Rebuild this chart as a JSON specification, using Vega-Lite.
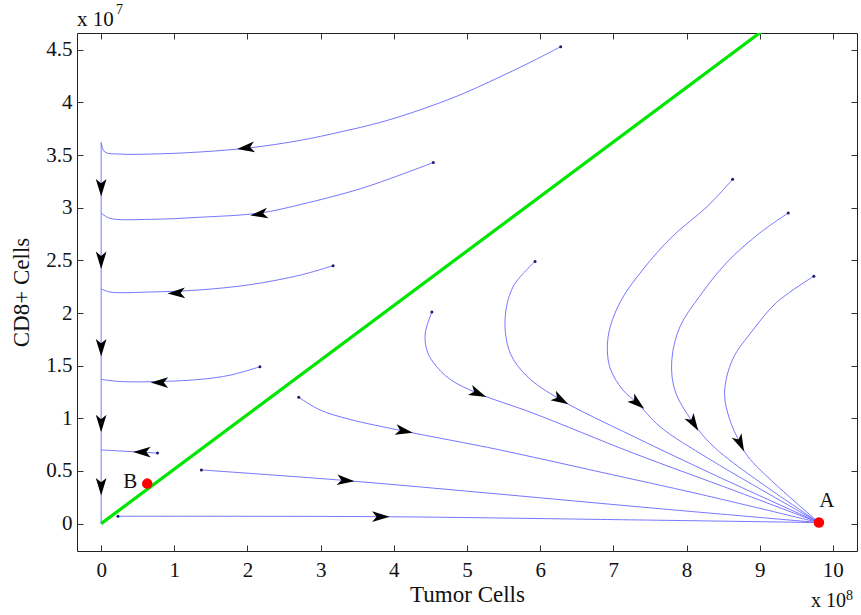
{
  "$schema": "https://vega.github.io/schema/vega-lite/v6.json",
  "width": 780,
  "height": 518,
  "autosize": {"type": "none"},
  "padding": {"left": 77, "top": 33, "right": 4, "bottom": 64},
  "background": "white",
  "config": {
    "view": {"stroke": "#222", "strokeWidth": 1},
    "font": "Liberation Serif",
    "axis": {
      "grid": false,
      "domain": false,
      "tickColor": "#333",
      "tickSize": -6,
      "labelFont": "Liberation Serif",
      "labelFontSize": 21,
      "labelColor": "#111",
      "titleFont": "Liberation Serif",
      "titleFontSize": 23,
      "titleFontWeight": "normal",
      "titleColor": "#111"
    }
  },
  "datasets": {
    "traj": [
      {"t": 1, "o": 1, "x": 6.28, "y": 4.53}, {"t": 1, "o": 2, "x": 5.86, "y": 4.38}, {"t": 1, "o": 3, "x": 5.38, "y": 4.22}, {"t": 1, "o": 4, "x": 4.90, "y": 4.07}, {"t": 1, "o": 5, "x": 4.36, "y": 3.93}, {"t": 1, "o": 6, "x": 3.81, "y": 3.81}, {"t": 1, "o": 7, "x": 3.27, "y": 3.72}, {"t": 1, "o": 8, "x": 2.72, "y": 3.64}, {"t": 1, "o": 9, "x": 2.04, "y": 3.57}, {"t": 1, "o": 10, "x": 1.35, "y": 3.53}, {"t": 1, "o": 11, "x": 0.67, "y": 3.51}, {"t": 1, "o": 12, "x": 0.26, "y": 3.51}, {"t": 1, "o": 13, "x": 0.05, "y": 3.53}, {"t": 1, "o": 14, "x": 0.0, "y": 3.62},
      {"t": 2, "o": 1, "x": 4.54, "y": 3.43}, {"t": 2, "o": 2, "x": 4.08, "y": 3.31}, {"t": 2, "o": 3, "x": 3.54, "y": 3.18}, {"t": 2, "o": 4, "x": 2.72, "y": 3.03}, {"t": 2, "o": 5, "x": 2.17, "y": 2.95}, {"t": 2, "o": 6, "x": 1.35, "y": 2.91}, {"t": 2, "o": 7, "x": 0.67, "y": 2.89}, {"t": 2, "o": 8, "x": 0.12, "y": 2.90}, {"t": 2, "o": 9, "x": 0.0, "y": 2.95},
      {"t": 3, "o": 1, "x": 3.17, "y": 2.45}, {"t": 3, "o": 2, "x": 2.72, "y": 2.36}, {"t": 3, "o": 3, "x": 2.04, "y": 2.27}, {"t": 3, "o": 4, "x": 1.35, "y": 2.22}, {"t": 3, "o": 5, "x": 0.67, "y": 2.20}, {"t": 3, "o": 6, "x": 0.12, "y": 2.20}, {"t": 3, "o": 7, "x": 0.0, "y": 2.23},
      {"t": 4, "o": 1, "x": 2.17, "y": 1.49}, {"t": 4, "o": 2, "x": 1.76, "y": 1.41}, {"t": 4, "o": 3, "x": 1.35, "y": 1.37}, {"t": 4, "o": 4, "x": 0.81, "y": 1.35}, {"t": 4, "o": 5, "x": 0.26, "y": 1.35}, {"t": 4, "o": 6, "x": 0.0, "y": 1.37},
      {"t": 5, "o": 1, "x": 0.77, "y": 0.67}, {"t": 5, "o": 2, "x": 0.53, "y": 0.68}, {"t": 5, "o": 3, "x": 0.26, "y": 0.69}, {"t": 5, "o": 4, "x": 0.0, "y": 0.70},
      {"t": 0, "o": 1, "x": 0.0, "y": 3.62}, {"t": 0, "o": 2, "x": 0.0, "y": 0.0},
      {"t": 6, "o": 1, "x": 0.23, "y": 0.07}, {"t": 6, "o": 2, "x": 3.81, "y": 0.066}, {"t": 6, "o": 3, "x": 6.82, "y": 0.04}, {"t": 6, "o": 4, "x": 9.81, "y": 0.01},
      {"t": 7, "o": 1, "x": 1.37, "y": 0.51}, {"t": 7, "o": 2, "x": 3.33, "y": 0.41}, {"t": 7, "o": 3, "x": 5.45, "y": 0.28}, {"t": 7, "o": 4, "x": 7.50, "y": 0.15}, {"t": 7, "o": 5, "x": 9.81, "y": 0.01},
      {"t": 8, "o": 1, "x": 2.70, "y": 1.20}, {"t": 8, "o": 2, "x": 2.99, "y": 1.08}, {"t": 8, "o": 3, "x": 3.40, "y": 0.99}, {"t": 8, "o": 4, "x": 4.13, "y": 0.88}, {"t": 8, "o": 5, "x": 5.45, "y": 0.70}, {"t": 8, "o": 6, "x": 6.82, "y": 0.49}, {"t": 8, "o": 7, "x": 8.18, "y": 0.28}, {"t": 8, "o": 8, "x": 9.81, "y": 0.01},
      {"t": 9, "o": 1, "x": 4.52, "y": 2.01}, {"t": 9, "o": 2, "x": 4.43, "y": 1.81}, {"t": 9, "o": 3, "x": 4.45, "y": 1.65}, {"t": 9, "o": 4, "x": 4.54, "y": 1.53}, {"t": 9, "o": 5, "x": 4.77, "y": 1.37}, {"t": 9, "o": 6, "x": 5.14, "y": 1.24}, {"t": 9, "o": 7, "x": 5.90, "y": 1.05}, {"t": 9, "o": 8, "x": 7.27, "y": 0.67}, {"t": 9, "o": 9, "x": 8.63, "y": 0.32}, {"t": 9, "o": 10, "x": 9.81, "y": 0.01},
      {"t": 10, "o": 1, "x": 5.93, "y": 2.49}, {"t": 10, "o": 2, "x": 5.63, "y": 2.25}, {"t": 10, "o": 3, "x": 5.52, "y": 1.94}, {"t": 10, "o": 4, "x": 5.59, "y": 1.62}, {"t": 10, "o": 5, "x": 5.82, "y": 1.40}, {"t": 10, "o": 6, "x": 6.27, "y": 1.18}, {"t": 10, "o": 7, "x": 7.27, "y": 0.83}, {"t": 10, "o": 8, "x": 8.42, "y": 0.45}, {"t": 10, "o": 9, "x": 9.81, "y": 0.01},
      {"t": 11, "o": 1, "x": 8.63, "y": 3.27}, {"t": 11, "o": 2, "x": 8.28, "y": 3.01}, {"t": 11, "o": 3, "x": 7.81, "y": 2.73}, {"t": 11, "o": 4, "x": 7.40, "y": 2.41}, {"t": 11, "o": 5, "x": 7.09, "y": 2.10}, {"t": 11, "o": 6, "x": 6.93, "y": 1.78}, {"t": 11, "o": 7, "x": 6.95, "y": 1.49}, {"t": 11, "o": 8, "x": 7.13, "y": 1.27}, {"t": 11, "o": 9, "x": 7.32, "y": 1.15}, {"t": 11, "o": 10, "x": 7.64, "y": 0.92}, {"t": 11, "o": 11, "x": 8.32, "y": 0.61}, {"t": 11, "o": 12, "x": 9.81, "y": 0.01},
      {"t": 12, "o": 1, "x": 9.39, "y": 2.95}, {"t": 12, "o": 2, "x": 9.00, "y": 2.76}, {"t": 12, "o": 3, "x": 8.55, "y": 2.48}, {"t": 12, "o": 4, "x": 8.18, "y": 2.16}, {"t": 12, "o": 5, "x": 7.91, "y": 1.87}, {"t": 12, "o": 6, "x": 7.80, "y": 1.56}, {"t": 12, "o": 7, "x": 7.84, "y": 1.27}, {"t": 12, "o": 8, "x": 8.09, "y": 0.96}, {"t": 12, "o": 9, "x": 8.42, "y": 0.70}, {"t": 12, "o": 10, "x": 9.81, "y": 0.01},
      {"t": 13, "o": 1, "x": 9.74, "y": 2.35}, {"t": 13, "o": 2, "x": 9.23, "y": 2.10}, {"t": 13, "o": 3, "x": 8.91, "y": 1.84}, {"t": 13, "o": 4, "x": 8.63, "y": 1.56}, {"t": 13, "o": 5, "x": 8.52, "y": 1.24}, {"t": 13, "o": 6, "x": 8.59, "y": 0.99}, {"t": 13, "o": 7, "x": 8.73, "y": 0.77}, {"t": 13, "o": 8, "x": 8.87, "y": 0.61}, {"t": 13, "o": 9, "x": 9.81, "y": 0.01}
    ],
    "starts": [
      {"x": 6.28, "y": 4.53}, {"x": 4.54, "y": 3.43}, {"x": 3.17, "y": 2.45}, {"x": 2.17, "y": 1.49}, {"x": 0.77, "y": 0.67},
      {"x": 0.23, "y": 0.07}, {"x": 1.37, "y": 0.51}, {"x": 2.70, "y": 1.20}, {"x": 4.52, "y": 2.01}, {"x": 5.93, "y": 2.49},
      {"x": 8.63, "y": 3.27}, {"x": 9.39, "y": 2.95}, {"x": 9.74, "y": 2.35}
    ],
    "arrows": [
      {"x": 1.99, "y": 3.57, "dir": 263}, {"x": 2.17, "y": 2.94, "dir": 262}, {"x": 1.04, "y": 2.19, "dir": 268}, {"x": 0.81, "y": 1.34, "dir": 270}, {"x": 0.57, "y": 0.68, "dir": 270},
      {"x": 0.0, "y": 3.20, "dir": 180}, {"x": 0.0, "y": 2.51, "dir": 180}, {"x": 0.0, "y": 1.68, "dir": 180}, {"x": 0.0, "y": 0.96, "dir": 180}, {"x": 0.0, "y": 0.36, "dir": 180},
      {"x": 3.81, "y": 0.066, "dir": 90}, {"x": 3.33, "y": 0.41, "dir": 95}, {"x": 4.13, "y": 0.88, "dir": 101}, {"x": 5.14, "y": 1.24, "dir": 113}, {"x": 6.27, "y": 1.18, "dir": 120},
      {"x": 7.32, "y": 1.15, "dir": 130}, {"x": 8.09, "y": 0.96, "dir": 148}, {"x": 8.73, "y": 0.77, "dir": 155}
    ],
    "eq": [
      {"x": 9.81, "y": 0.01, "label": "A"},
      {"x": 0.63, "y": 0.38, "label": "B"}
    ],
    "green": [{"x": 0, "y": 0}, {"x": 9.3, "y": 4.816}]
  },
  "layer": [
    {
      "data": {"name": "green"},
      "mark": {"type": "line", "color": "#00e600", "strokeWidth": 3.2, "clip": true},
      "encoding": {
        "x": {"field": "x", "type": "quantitative", "scale": {"domain": [-0.33, 10.33], "nice": false, "zero": false},
              "axis": {"orient": "bottom", "values": [0,1,2,3,4,5,6,7,8,9,10], "title": "Tumor Cells", "labelPadding": 14, "titlePadding": 3}},
        "y": {"field": "y", "type": "quantitative", "scale": {"domain": [-0.26, 4.66], "nice": false, "zero": false},
              "axis": {"orient": "left", "values": [0,0.5,1,1.5,2,2.5,3,3.5,4,4.5], "format": "~g", "title": "CD8+ Cells", "labelPadding": 11, "titlePadding": 12}}
      }
    },
    {
      "data": {"name": "green"},
      "mark": {"type": "line", "opacity": 0, "clip": true},
      "encoding": {
        "x": {"field": "x", "type": "quantitative", "scale": {"domain": [-0.33, 10.33], "nice": false, "zero": false},
              "axis": {"orient": "top", "values": [0,1,2,3,4,5,6,7,8,9,10], "labels": false, "title": null}},
        "y": {"field": "y", "type": "quantitative", "scale": {"domain": [-0.26, 4.66], "nice": false, "zero": false},
              "axis": {"orient": "right", "values": [0,0.5,1,1.5,2,2.5,3,3.5,4,4.5], "labels": false, "title": null}}
      }
    },
    {
      "data": {"name": "traj"},
      "mark": {"type": "line", "color": "#6666ff", "strokeWidth": 0.9, "interpolate": "catmull-rom"},
      "encoding": {
        "x": {"field": "x", "type": "quantitative", "scale": {"domain": [-0.33, 10.33], "nice": false, "zero": false}, "axis": null},
        "y": {"field": "y", "type": "quantitative", "scale": {"domain": [-0.26, 4.66], "nice": false, "zero": false}, "axis": null},
        "detail": {"field": "t", "type": "nominal"},
        "order": {"field": "o", "type": "quantitative"}
      }
    },
    {
      "data": {"name": "starts"},
      "mark": {"type": "point", "filled": true, "color": "#1a1a6e", "size": 9, "opacity": 1},
      "encoding": {
        "x": {"field": "x", "type": "quantitative", "scale": {"domain": [-0.33, 10.33], "nice": false, "zero": false}, "axis": null},
        "y": {"field": "y", "type": "quantitative", "scale": {"domain": [-0.26, 4.66], "nice": false, "zero": false}, "axis": null}
      }
    },
    {
      "data": {"name": "arrows"},
      "mark": {"type": "point", "filled": true, "color": "black", "opacity": 1, "size": 380,
               "shape": "M0,-1L0.55,0.8L0,0.35L-0.55,0.8Z"},
      "encoding": {
        "x": {"field": "x", "type": "quantitative", "scale": {"domain": [-0.33, 10.33], "nice": false, "zero": false}, "axis": null},
        "y": {"field": "y", "type": "quantitative", "scale": {"domain": [-0.26, 4.66], "nice": false, "zero": false}, "axis": null},
        "angle": {"field": "dir", "type": "quantitative", "scale": null}
      }
    },
    {
      "data": {"name": "eq"},
      "mark": {"type": "point", "filled": true, "color": "#ff0000", "opacity": 1, "size": 110},
      "encoding": {
        "x": {"field": "x", "type": "quantitative", "scale": {"domain": [-0.33, 10.33], "nice": false, "zero": false}, "axis": null},
        "y": {"field": "y", "type": "quantitative", "scale": {"domain": [-0.26, 4.66], "nice": false, "zero": false}, "axis": null}
      }
    },
    {
      "data": {"name": "eq"},
      "transform": [{"filter": "datum.label == 'A'"}],
      "mark": {"type": "text", "font": "Liberation Serif", "fontSize": 21, "color": "#111", "align": "center", "baseline": "alphabetic", "dx": 8, "dy": -16},
      "encoding": {
        "x": {"field": "x", "type": "quantitative", "scale": {"domain": [-0.33, 10.33], "nice": false, "zero": false}, "axis": null},
        "y": {"field": "y", "type": "quantitative", "scale": {"domain": [-0.26, 4.66], "nice": false, "zero": false}, "axis": null},
        "text": {"field": "label"}
      }
    },
    {
      "data": {"name": "eq"},
      "transform": [{"filter": "datum.label == 'B'"}],
      "mark": {"type": "text", "font": "Liberation Serif", "fontSize": 21, "color": "#111", "align": "right", "baseline": "middle", "dx": -10, "dy": -2},
      "encoding": {
        "x": {"field": "x", "type": "quantitative", "scale": {"domain": [-0.33, 10.33], "nice": false, "zero": false}, "axis": null},
        "y": {"field": "y", "type": "quantitative", "scale": {"domain": [-0.26, 4.66], "nice": false, "zero": false}, "axis": null},
        "text": {"field": "label"}
      }
    },
    {
      "data": {"values": [{"x": -0.33, "y": 4.66, "base": "x 10", "exp": "7"}]},
      "layer": [
        {"mark": {"type": "text", "font": "Liberation Serif", "fontSize": 21, "color": "#111", "align": "left", "baseline": "alphabetic", "dy": -7},
         "encoding": {"text": {"field": "base"}}},
        {"mark": {"type": "text", "font": "Liberation Serif", "fontSize": 14, "color": "#111", "align": "left", "baseline": "alphabetic", "dx": 39, "dy": -19},
         "encoding": {"text": {"field": "exp"}}}
      ],
      "encoding": {
        "x": {"field": "x", "type": "quantitative", "scale": {"domain": [-0.33, 10.33], "nice": false, "zero": false}, "axis": null},
        "y": {"field": "y", "type": "quantitative", "scale": {"domain": [-0.26, 4.66], "nice": false, "zero": false}, "axis": null}
      }
    },
    {
      "data": {"values": [{"x": 10.33, "y": -0.26, "base": "x 10", "exp": "8"}]},
      "layer": [
        {"mark": {"type": "text", "font": "Liberation Serif", "fontSize": 20, "color": "#111", "align": "right", "baseline": "alphabetic", "dx": -11, "dy": 56},
         "encoding": {"text": {"field": "base"}}},
        {"mark": {"type": "text", "font": "Liberation Serif", "fontSize": 14, "color": "#111", "align": "right", "baseline": "alphabetic", "dx": -4, "dy": 49},
         "encoding": {"text": {"field": "exp"}}}
      ],
      "encoding": {
        "x": {"field": "x", "type": "quantitative", "scale": {"domain": [-0.33, 10.33], "nice": false, "zero": false}, "axis": null},
        "y": {"field": "y", "type": "quantitative", "scale": {"domain": [-0.26, 4.66], "nice": false, "zero": false}, "axis": null}
      }
    }
  ],
  "resolve": {"axis": {"x": "independent", "y": "independent"}}
}
